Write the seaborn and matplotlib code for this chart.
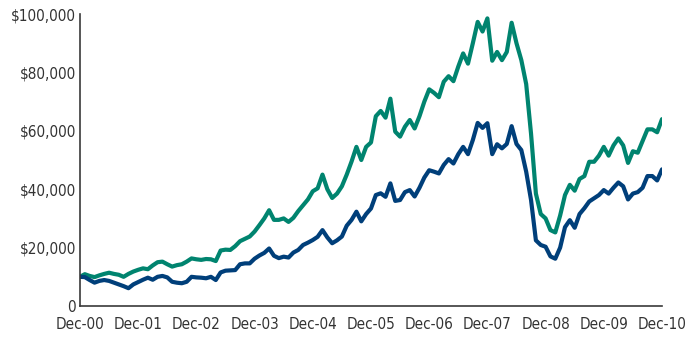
import numpy as np
import pandas as pd
import matplotlib
matplotlib.use("Agg")
import matplotlib.pyplot as plt
import seaborn as sns
from matplotlib import font_manager
from matplotlib.ticker import FuncFormatter, MultipleLocator

# monthly values, Dec-00 .. Dec-10 (121 points)
fund_a = [10000, 10900, 10300, 9900, 10500, 11000, 11400, 11000, 10700, 10000,
          11000, 11800, 12400, 12900, 12600, 13900, 15000, 15200, 14300, 13500,
          14000, 14300, 15200, 16300, 16000, 15800, 16100, 16000, 15400, 19000,
          19300, 19200, 20500, 22200, 23000, 23800, 25500, 27700, 30000, 32800,
          29500, 29500, 30000, 28800, 30200, 32500, 34500, 36500, 39300, 40300,
          45000, 40000, 37000, 38500, 41000, 45000, 49500, 54500, 50000, 54500,
          56000, 65000, 66800, 64500, 71000, 59700, 58000, 61400, 63700, 60800,
          65000, 70000, 74200, 73000, 71500, 76800, 78700, 77000, 82000, 86500,
          83000, 90000, 97300, 94000, 98500, 84000, 87000, 84200, 87000, 97000,
          90000, 84200, 76000, 59000, 38500, 31500, 30000, 26000, 25200, 31000,
          38000, 41500, 39500, 43500, 44500, 49400, 49400, 51500, 54500, 51500,
          55000, 57400, 55000, 49000, 53000, 52500, 56500, 60500, 60500, 59500,
          64000]

fund_b = [10000, 9900, 8900, 8000, 8600, 8900, 8600, 8000, 7400, 6800,
          6100, 7400, 8200, 9000, 9700, 9000, 10000, 10300, 9800, 8300,
          7980, 7800, 8300, 10000, 9800, 9700, 9500, 10000, 8900, 11500,
          12100, 12200, 12300, 14300, 14600, 14600, 16200, 17300, 18200, 19700,
          17200, 16400, 16900, 16600, 18300, 19200, 20900, 21700, 22600, 23700,
          26000, 23500, 21500, 22500, 23800, 27500, 29500, 32300, 29000, 31500,
          33400, 38000, 38600, 37400, 42000, 36000, 36300, 39000, 39700, 37500,
          40500, 44000, 46500, 46000, 45400, 48300, 50300, 48800, 52000, 54500,
          52000, 56850, 62700, 61000, 62600, 52000, 55400, 54000, 55500, 61600,
          55500, 53400, 46000, 36300, 22500, 20900, 20300, 17000, 16200, 20000,
          27000, 29400, 26800, 31500, 33500, 35800, 36900, 38000, 39700, 38500,
          40500, 42300, 41000, 36500, 38500, 39000, 40500, 44500, 44500, 43000,
          46800]

year_labels = ["Dec-00", "Dec-01", "Dec-02", "Dec-03", "Dec-04", "Dec-05",
               "Dec-06", "Dec-07", "Dec-08", "Dec-09", "Dec-10"]

months = np.arange(len(fund_a))
data = pd.concat([
    pd.DataFrame({"month": months, "value": fund_a, "series": "A"}),
    pd.DataFrame({"month": months, "value": fund_b, "series": "B"}),
])

sns.set_style("white")

# a narrow face if one is installed, otherwise condensed DejaVu
names = {f.name for f in font_manager.fontManager.ttflist}
if "Liberation Sans Narrow" in names:
    plt.rcParams["font.family"] = ["Liberation Sans Narrow", "DejaVu Sans"]
    fsize = 12
else:
    plt.rcParams["font.family"] = ["DejaVu Sans"]
    plt.rcParams["font.stretch"] = "condensed"
    has_cond = any(f.name == "DejaVu Sans" and f.stretch == "condensed"
                   for f in font_manager.fontManager.ttflist)
    fsize = 11 if has_cond else 9.5

fig = plt.figure(figsize=(6.87, 3.39), dpi=100)
ax = fig.add_axes([0.1164, 0.0973, 0.8472, 0.8614])

sns.lineplot(data=data, x="month", y="value", hue="series",
             palette=["#00846F", "#003F7A"], linewidth=3.0,
             legend=False, ax=ax)

sns.despine(ax=ax)
ax.set_xlim(0, 120)
ax.set_ylim(0, 100000)
ax.set_xlabel("")
ax.set_ylabel("")

axis_col = "#3a3a3a"
for side in ["left", "bottom"]:
    ax.spines[side].set_color(axis_col)
    ax.spines[side].set_linewidth(1.2)

ax.set_yticks(np.arange(0, 100001, 20000))
ax.yaxis.set_major_formatter(FuncFormatter(lambda v, p: "0" if v == 0 else f"${v:,.0f}"))
ax.set_xticks(np.arange(0, 121, 12))
ax.set_xticklabels(year_labels)
ax.xaxis.set_minor_locator(MultipleLocator(1))

ax.tick_params(axis="y", direction="in", length=10, width=1.1, color=axis_col,
               labelcolor="#333333", labelsize=fsize, pad=3)
ax.tick_params(axis="x", which="both", direction="in", length=4.5, width=0.9,
               color=axis_col, labelcolor="#333333", labelsize=fsize, pad=8)

fig.savefig("out.png", dpi=100)
